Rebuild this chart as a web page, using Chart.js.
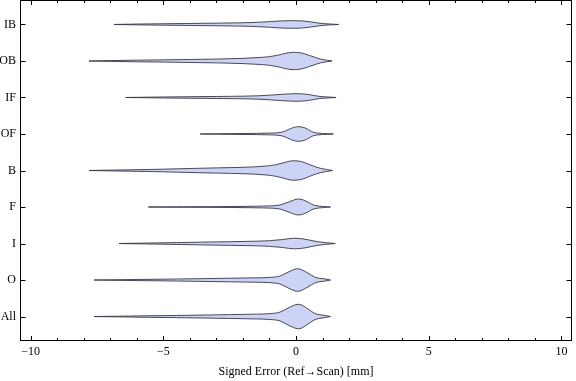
<!DOCTYPE html>
<html><head><meta charset="utf-8">
<script src="https://cdn.jsdelivr.net/npm/chart.js@4/dist/chart.umd.min.js"></script>
<style>html,body{margin:0;padding:0;background:#fff}</style>
</head><body>
<canvas id="c" width="576" height="381"></canvas>
<script>
// ---- data ----
const categories = ['IB','OB','IF','OF','B','F','I','O','All'];
const xTickValues = [-10,-5,0,5,10];
const xTickLabels = ['\u221210','\u22125','0','5','10'];
const axisTitle = 'Signed Error (Ref\u2192Scan) [mm]';

// error positions [mm] and density (half-width) profiles per category
const IB_x  = [-6.86,-6,-5,-4,-3,-2,-1.5,-1,-0.6,-0.2,0.2,0.5,0.8,1.05,1.3,1.61];
const IB_d  = [0,0.4,0.7,1.0,1.3,1.7,2.1,2.8,3.5,3.8,3.6,2.8,1.6,0.8,0.4,0];
const OB_x  = [-7.8,-7,-6,-5,-4,-3,-2,-1.3,-1,-0.7,-0.4,-0.1,0.2,0.5,0.75,0.95,1.15,1.36];
const OB_d  = [0,0.4,0.8,1.1,1.5,1.9,2.6,3.6,4.3,5.7,7.6,8.7,8.0,5.6,3.3,1.7,0.8,0];
const IF_x  = [-6.42,-5,-4,-3,-2,-1.4,-1,-0.5,0,0.4,0.7,0.9,1.2,1.51];
const IF_d  = [0,0.5,0.8,1.0,1.3,1.7,2.3,3.2,3.8,3.2,1.9,1.0,0.5,0];
const OF_x  = [-3.61,-3,-2.3,-1.5,-1,-0.6,-0.4,-0.2,0.1,0.35,0.5,0.65,0.8,1.0,1.41];
const OF_d  = [0,0.2,0.4,0.6,0.9,1.5,3.0,5.5,7.3,6.0,3.8,1.8,1.0,0.5,0];
const B_x   = [-7.8,-7,-6,-5,-4,-3,-2,-1.2,-0.8,-0.5,-0.12,0.2,0.5,0.75,0.95,1.15,1.38];
const B_d   = [0,0.4,0.8,1.3,2.0,2.6,3.2,4.3,5.6,7.5,9.7,9.0,6.0,3.5,2.0,1.0,0];
const F_x   = [-5.56,-4.5,-3.5,-2.3,-1.5,-1,-0.6,-0.3,0.1,0.45,0.6,0.75,1.0,1.3];
const F_d   = [0,0.2,0.3,0.5,0.8,1.1,2.0,4.8,8.0,5.0,2.6,1.4,0.6,0];
const I_x   = [-6.67,-5.5,-4.5,-3.5,-2.5,-1.5,-1,-0.5,-0.06,0.3,0.6,0.85,1.1,1.48];
const I_d   = [0,0.5,0.9,1.4,1.8,2.3,2.8,4.0,5.3,4.5,2.9,1.7,0.9,0];
const O_x   = [-7.61,-6.5,-5.5,-4.5,-3.5,-2.5,-1.5,-1,-0.6,-0.3,0.06,0.45,0.7,0.9,1.1,1.3];
const O_d   = [0,0.4,0.7,1.0,1.4,1.8,2.2,2.6,4.0,7.8,11.3,7.0,3.0,1.7,1.0,0];
const All_x = [-7.61,-6.5,-5.5,-4.5,-3.5,-2.5,-1.5,-1,-0.6,-0.3,0.1,0.45,0.7,0.9,1.1,1.3];
const All_d = [0,0.4,0.8,1.1,1.5,1.9,2.4,2.9,4.4,8.5,12.3,7.6,3.2,1.8,1.0,0];

const profiles = [[IB_x,IB_d],[OB_x,OB_d],[IF_x,IF_d],[OF_x,OF_d],[B_x,B_d],[F_x,F_d],[I_x,I_d],[O_x,O_d],[All_x,All_d]];

// ---- styling ----
const DENSITY_SCALE = 1/36.5;
const FILL = 'rgb(204,211,245)';
const EDGE = 'rgba(55,55,70,0.9)';
const FONT = "'Liberation Serif','Times New Roman',serif";

const datasets = [];
profiles.forEach(([xs, ds], i) => {
  const base = { borderColor: EDGE, borderWidth: 1, pointRadius: 0, cubicInterpolationMode: 'monotone' };
  datasets.push(Object.assign({}, base, { data: xs.map((x,k)=>({x, y: i - ds[k]*DENSITY_SCALE})), fill: false }));
  datasets.push(Object.assign({}, base, { data: xs.map((x,k)=>({x, y: i + ds[k]*DENSITY_SCALE})), fill: '-1', backgroundColor: FILL }));
});

const frameTicks = {
  id: 'frameTicks',
  afterDraw(chart) {
    const ctx = chart.ctx, ca = chart.chartArea;
    const xs = chart.scales.x, ys = chart.scales.y;
    ctx.save();
    ctx.strokeStyle = '#000';
    ctx.lineWidth = 1;
    const L = Math.round(ca.left)+0.5, R = Math.round(ca.right)-0.5, T = Math.round(ca.top)+0.5, Bm = Math.round(ca.bottom)-0.5;
    ctx.strokeRect(L, T, R-L, Bm-T);
    ctx.beginPath();
    for (let v = -10; v <= 10; v++) {
      const len = (v % 5 === 0) ? 4.5 : 2.5;
      const px = Math.round(xs.getPixelForValue(v)) + 0.5;
      ctx.moveTo(px, Bm); ctx.lineTo(px, Bm - len);
      ctx.moveTo(px, T); ctx.lineTo(px, T + len);
    }
    categories.forEach((c, i) => {
      const py = Math.round(ys.getPixelForValue(i)) + 0.5;
      ctx.moveTo(L, py); ctx.lineTo(L + 5, py);
      ctx.moveTo(R, py); ctx.lineTo(R - 5, py);
    });
    ctx.stroke();
    ctx.restore();
  }
};

new Chart(document.getElementById('c'), {
  type: 'line',
  data: { datasets },
  options: {
    responsive: false,
    devicePixelRatio: 1,
    animation: false,
    layout: { autoPadding: false, padding: { left: 0, right: 4, top: 0, bottom: 0 } },
    plugins: { legend: { display: false }, tooltip: { enabled: false }, filler: { drawTime: 'beforeDatasetsDraw' } },
    scales: {
      x: {
        type: 'linear', min: -10.4, max: 10.4,
        grid: { display: false, drawTicks: false },
        border: { display: false },
        afterBuildTicks: s => { s.ticks = xTickValues.map(v => ({ value: v })); },
        afterFit: s => { s.height = 40; s.paddingLeft = 0; s.paddingRight = 0; },
        ticks: { color: '#000', padding: 4, maxRotation: 0, autoSkip: false,
          font: { family: FONT, size: 12 },
          callback: v => { const k = xTickValues.indexOf(v); return k >= 0 ? xTickLabels[k] : ''; } },
        title: { display: true, text: axisTitle, color: '#000', font: { family: FONT, size: 12 }, padding: { top: 0, bottom: 2 } }
      },
      y: {
        type: 'linear', min: -0.67, max: 8.67, reverse: true,
        grid: { display: false, drawTicks: false },
        border: { display: false },
        afterBuildTicks: s => { s.ticks = categories.map((c, i) => ({ value: i })); },
        afterFit: s => { s.width = 20; s.paddingTop = 0; s.paddingBottom = 0; },
        ticks: { color: '#000', padding: 4, autoSkip: false,
          font: { family: FONT, size: 12 },
          callback: v => categories[v] }
      }
    }
  },
  plugins: [frameTicks]
});
</script>
</body></html>
